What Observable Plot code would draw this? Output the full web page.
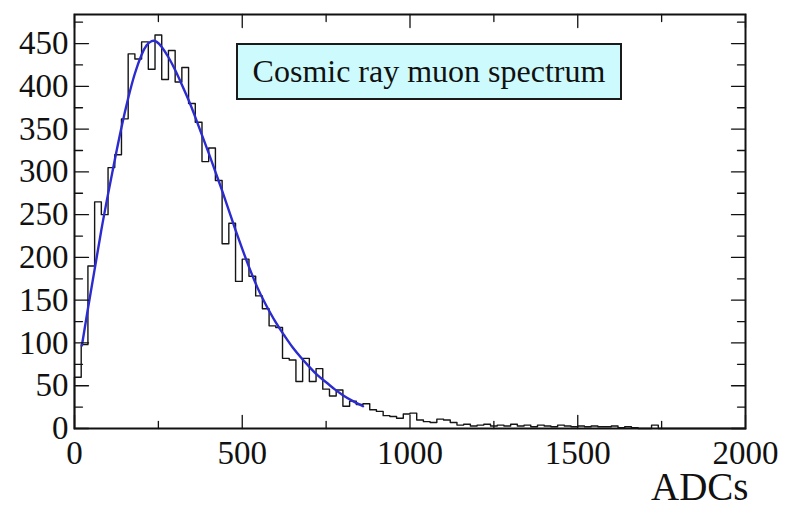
<!DOCTYPE html>
<html>
<head>
<meta charset="utf-8">
<script src="https://cdn.jsdelivr.net/npm/d3@7"></script>
<script src="https://cdn.jsdelivr.net/npm/@observablehq/plot@0.6"></script>
<style>
  html, body { margin: 0; padding: 0; background: #fff; }
  #chart { position: relative; width: 791px; height: 508px; }
  #pave {
    position: absolute; left: 236px; top: 43px; width: 386px; height: 57px;
    box-sizing: border-box; background: #cdfbfd; border: 2px solid #1a1a1a;
    display: flex; align-items: center; justify-content: center;
    font-family: "Liberation Serif", serif; font-size: 32px; color: #111;
  }
</style>
</head>
<body>
<div id="chart"></div>
<script>
// ADC histogram: 100 bins of 20 ADC counts each, 0..2000
const binWidth = 20;
const counts = [
  60, 98, 190, 265, 250, 305, 320, 362, 438, 432,
  452, 420, 460, 408, 442, 405, 422, 380, 358, 312,
  328, 290, 216, 240, 172, 198, 178, 155, 140, 120,
  118, 82, 80, 55, 82, 55, 70, 46, 38, 45,
  26, 32, 28, 29, 22, 20, 15, 14, 12, 17,
  18, 10, 8, 7, 11, 10, 7, 4, 5, 3,
  4, 5, 3, 4, 3, 5, 3, 4, 2, 4,
  3, 2, 4, 3, 2, 3, 2, 3, 2, 2,
  3, 1, 2, 1, 0, 0, 4, 0, 0, 0,
  0, 0, 0, 0, 0, 0, 0, 0, 0, 0
];

// Fitted spectrum shape (ADC, counts)
const fitAdc = [22, 40, 60, 80, 100, 120, 140, 160, 180, 200, 215, 230, 245, 260, 280, 300, 320, 340, 360, 380, 400,
  420, 440, 460, 480, 500, 520, 545, 570, 600, 625, 650, 675, 700, 725, 750, 775, 800, 830, 860];
const fitCounts = [97, 140, 186, 232, 274, 314, 352, 386, 415, 437, 448, 453, 452, 446, 434, 419, 402, 384, 364, 343, 322,
  300, 278, 255, 232, 210, 189, 165, 145, 124, 109, 95, 83, 72, 62, 54, 46, 39, 32, 26];

// Axis ticks
const xMajor = [0, 500, 1000, 1500, 2000];
const xMinor = [250, 750, 1250, 1750];
const yMajor = [0, 50, 100, 150, 200, 250, 300, 350, 400, 450];
const yMinor = [25, 75, 125, 175, 225, 275, 325, 375, 425, 475];

const xTitle = "ADCs";
const paveText = "Cosmic ray muon spectrum";

const steps = [{adc: 0, n: 0}]
  .concat(counts.map((n, i) => ({adc: i * binWidth, n})))
  .concat([{adc: counts.length * binWidth, n: counts[counts.length - 1]}]);
const fit = fitAdc.map((a, i) => ({adc: a, n: fitCounts[i]}));

// Straight tick segment drawn from the anchor point along the vector direction
const tickShape = { draw(context, l) { context.moveTo(0, 0); context.lineTo(0, -l); } };
const ticks = (data, side, len) => {
  const rot = {bottom: 0, top: 180, left: 90, right: -90}[side];
  const ch = (side === "bottom" || side === "top") ? {x: d => d} : {y: d => d};
  return Plot.vector(data, {...ch, frameAnchor: side, length: len, rotate: rot, anchor: "start",
    shape: tickShape, stroke: "#111", strokeWidth: 1.3});
};

const serif = "'Liberation Serif', 'Times New Roman', serif";

const chart = Plot.plot({
  width: 791,
  height: 508,
  marginLeft: 74,
  marginRight: 46,
  marginTop: 14,
  marginBottom: 80,
  x: {domain: [0, 2000]},
  y: {domain: [0, 484]},
  style: {fontFamily: serif, background: "#fff", color: "#111"},
  marks: [
    Plot.line(steps, {x: "adc", y: "n", curve: "step-after", stroke: "#151515", strokeWidth: 1.4}),
    Plot.line(fit, {x: "adc", y: "n", curve: "natural", stroke: "#2b2bd0", strokeWidth: 2.4}),
    ticks(xMajor, "bottom", 13), ticks(xMinor, "bottom", 7),
    ticks(xMajor, "top", 13), ticks(xMinor, "top", 7),
    ticks(yMajor, "left", 14), ticks(yMinor, "left", 8),
    ticks(yMajor, "right", 14), ticks(yMinor, "right", 8),
    Plot.axisX(xMajor, {tickSize: 0, tickPadding: 12, fontSize: 33, fontFamily: serif,
      tickFormat: d => String(d), label: null, fill: "#111"}),
    Plot.axisY(yMajor, {tickSize: 0, tickPadding: 6, fontSize: 33, fontFamily: serif,
      tickFormat: d => String(d), label: null, fill: "#111"}),
    Plot.text([xTitle], {text: d => d, frameAnchor: "bottom-right", textAnchor: "end", lineAnchor: "bottom",
      dx: 3, dy: 71, fontSize: 39, fontFamily: serif, fill: "#111"}),
    Plot.frame({stroke: "#111", strokeWidth: 2})
  ]
});

const root = document.getElementById("chart");
root.appendChild(chart);
const pave = document.createElement("div");
pave.id = "pave";
pave.textContent = paveText;
root.appendChild(pave);
</script>
</body>
</html>
